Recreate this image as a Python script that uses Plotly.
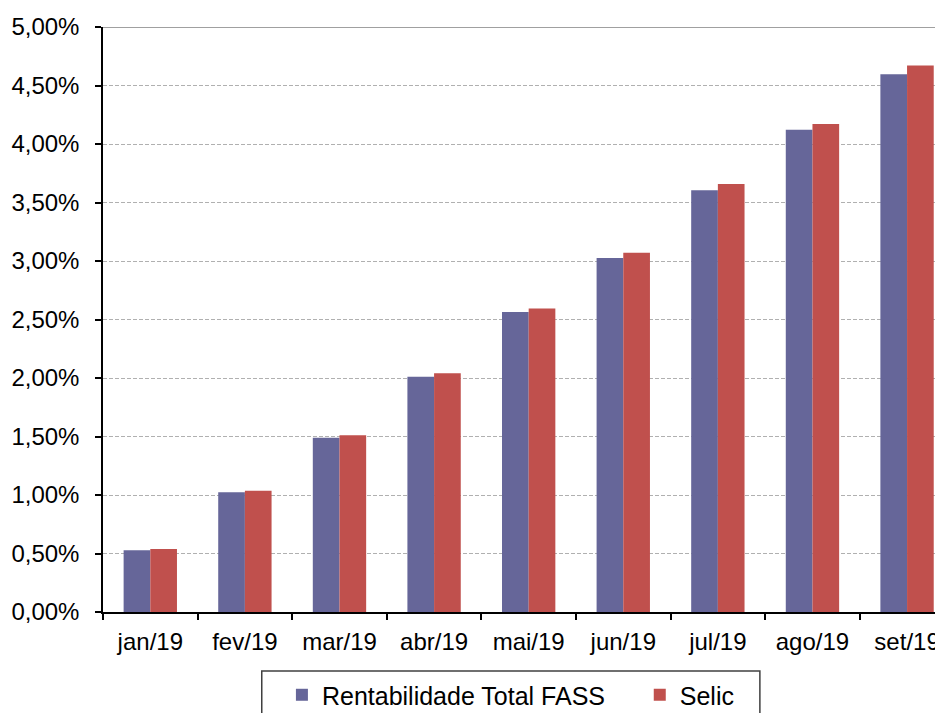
import plotly.graph_objects as go

categories = ["jan/19", "fev/19", "mar/19", "abr/19", "mai/19", "jun/19", "jul/19", "ago/19", "set/19"]
fass = [0.527, 1.023, 1.49, 2.011, 2.564, 3.026, 3.604, 4.122, 4.596]
selic = [0.538, 1.037, 1.51, 2.040, 2.593, 3.071, 3.658, 4.171, 4.672]
y_ticks = [0, 0.5, 1.0, 1.5, 2.0, 2.5, 3.0, 3.5, 4.0, 4.5, 5.0]
y_labels = [f"{v:.2f}%".replace(".", ",") for v in y_ticks]

FONT = "Liberation Sans, Arial, sans-serif"

fig = go.Figure()
fig.add_trace(go.Bar(x=categories, y=fass, name="Rentabilidade Total FASS",
                     marker=dict(color="#666699", line=dict(width=0)), legend="legend"))
fig.add_trace(go.Bar(x=categories, y=selic, name="Selic",
                     marker=dict(color="#c0504d", line=dict(width=0)), legend="legend2"))

leg_common = dict(orientation="h", xanchor="left", y=-0.1026, yanchor="top",
                  borderwidth=0, font=dict(size=25), bgcolor="rgba(0,0,0,0)",
                  itemwidth=30)

# page body has an 8px margin, so the figure is sized/offset to compensate
fig.update_layout(
    width=935, height=705,
    margin=dict(l=95, r=0, t=19, b=101, autoexpand=False),
    paper_bgcolor="white", plot_bgcolor="white",
    barmode="group", bargap=0.436, bargroupgap=0,
    font=dict(family=FONT, size=24, color="black"),
    showlegend=True,
    legend=dict(x=0.213, **leg_common),
    legend2=dict(x=0.639, **leg_common),
    xaxis=dict(type="category", range=[-0.5, 8.38], showline=True, linecolor="black",
               linewidth=1.5, ticks="outside", tickson="boundaries", ticklen=6,
               tickcolor="black", tickwidth=1.5, showgrid=False,
               ticklabelstandoff=7, tickfont=dict(size=24)),
    yaxis=dict(range=[0, 5.0], tickvals=y_ticks, ticktext=y_labels, showline=True,
               linecolor="black", linewidth=1.5, ticks="outside", ticklen=6,
               tickcolor="black", tickwidth=1.5, showgrid=True, gridcolor="#b0b0b0",
               gridwidth=1, griddash="4px,2px", zeroline=False,
               ticklabelstandoff=11, tickfont=dict(size=24)),
)
# top border line of the plot area
fig.add_shape(type="line", xref="paper", yref="y", x0=0, x1=1, y0=5.0, y1=5.0,
              line=dict(color="#808080", width=1.5), layer="above")
# legend frame (bottom is cut off by the page edge, as in the original)
fig.add_shape(type="rect", xref="paper", yref="paper", x0=0.189, x1=0.782,
              y0=-0.1009, y1=-0.25, line=dict(color="#404040", width=1.5),
              fillcolor="rgba(0,0,0,0)", layer="above")

fig.write_html("out.html")
